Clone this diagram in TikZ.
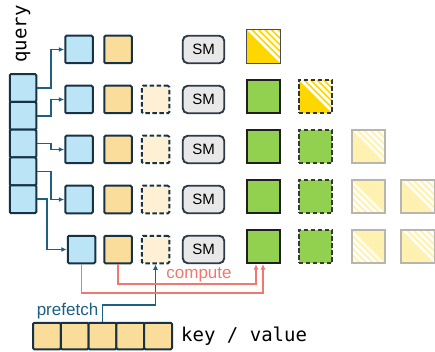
\documentclass[tikz,border=0pt]{standalone}
\usepackage{fontspec}
\setmainfont{Liberation Sans}
\setmonofont{DejaVu Sans Mono}
\usetikzlibrary{arrows.meta,calc}
\definecolor{boxline}{RGB}{22,50,68}
\definecolor{qblue}{RGB}{187,228,247}
\definecolor{korange}{RGB}{250,220,155}
\definecolor{dfill}{RGB}{253,240,212}
\definecolor{conncol}{RGB}{30,95,130}
\definecolor{smfill}{RGB}{232,232,232}
\definecolor{smline}{RGB}{47,58,72}
\definecolor{ggreen}{RGB}{146,208,80}
\definecolor{byellow}{RGB}{255,215,0}
\definecolor{lyellow}{RGB}{255,242,176}
\definecolor{lgray}{RGB}{184,180,174}
\definecolor{salmon}{RGB}{240,120,110}
\begin{document}
\begin{tikzpicture}[x=1pt,y=-1pt,
  cellbase/.style={draw=boxline, line width=2pt, inner sep=0pt, rounded corners=1.2pt},
  qcell/.style={cellbase, fill=qblue, minimum width=26.5pt, minimum height=27.8pt},
  kvcell/.style={cellbase, fill=korange, minimum width=27.8pt, minimum height=26.5pt},
  qbox/.style={cellbase, fill=qblue, minimum size=27.5pt},
  kbox/.style={cellbase, fill=korange, minimum size=27.5pt},
  dbox/.style={cellbase, fill=dfill, minimum size=27.5pt, dash pattern=on 4.5pt off 2.5pt},
  smbox/.style={draw=smline, fill=smfill, line width=1.9pt, rounded corners=5pt,
    minimum width=41.5pt, minimum height=27.5pt, inner sep=0pt, font=\fontsize{15}{15}\selectfont},
  bigbox/.style={minimum size=33.5pt, inner sep=0pt, line width=1.6pt},
  gbox/.style={bigbox, fill=ggreen, draw=black!88},
  gdbox/.style={gbox, dash pattern=on 4.5pt off 2.5pt, draw=black!78},
  stripeUR/.style={path picture={
    \foreach \t in {2,8.5,15,21.5,28}{
      \draw[white, solid, line width=#1]
        ($(path picture bounding box.north west)+(\t,0)$) --
        ($(path picture bounding box.south east)+(0,-\t)$);}}},
  stripeLL/.style={path picture={
    \foreach \t in {2,8.5,15,21.5,28}{
      \draw[white, solid, line width=#1]
        ($(path picture bounding box.north west)+(0,\t)$) --
        ($(path picture bounding box.south east)+(-\t,0)$);}}},
  ybox/.style={bigbox, fill=byellow, draw=black!70, line width=1.2pt, stripeUR=2.5pt},
  ydbox/.style={bigbox, fill=byellow, draw=black!80, dash pattern=on 4.5pt off 2.5pt, stripeUR=2.5pt},
  lboxUR/.style={bigbox, fill=lyellow, draw=lgray, line width=1.7pt, stripeUR=2.3pt},
  lboxLL/.style={bigbox, fill=lyellow, draw=lgray, line width=1.7pt, stripeLL=2.3pt},
  conn/.style={draw=conncol, line width=1.7pt, -{Latex[length=5.5pt,width=5pt]}},
  comp/.style={draw=salmon, line width=1.7pt, -{Latex[length=5.5pt,width=5pt]}},
]
\useasboundingbox (0,0) rectangle (435,352);

% query stack
\node[font=\ttfamily\fontsize{19}{19}\selectfont, rotate=90, inner sep=0pt] (qlabel) at (23,34) {query};
\foreach \i/\y in {1/88,2/115.8,3/143.6,4/171.4,5/199.2}{
  \node[qcell] (q\i) at (23,\y) {};
}

% row boxes
\foreach \i/\y in {1/49.5,2/99.5,3/149.5,4/199.5}{
  \node[qbox] (b\i) at (79,\y) {};
}
\node[qbox] (b5) at (81.5,249.5) {};
\foreach \i/\y in {1/49.5,2/99.5,3/149.5,4/199.5,5/249.5}{
  \node[kbox] (o\i) at (118,\y) {};
  \node[smbox] (sm\i) at (203.5,\y) {SM};
}
\foreach \i/\y in {2/99.5,3/149.5,4/199.5,5/249.5}{
  \node[dbox] (d\i) at (155.5,\y) {};
}

% big boxes
\node[ybox] (y1) at (263.5,46.5) {};
\foreach \i/\y in {2/96.5,3/146.5,4/196.5,5/246.5}{
  \node[gbox] (g\i) at (263.5,\y) {};
}
\node[ydbox] (yd2) at (315.5,96.5) {};
\foreach \i/\y in {3/146.5,4/196.5,5/246.5}{
  \node[gdbox] (gd\i) at (315.5,\y) {};
}
\node[lboxUR] (l3) at (368.5,146.5) {};
\node[lboxLL] (l4) at (368.5,196.5) {};
\node[lboxLL] (l5) at (368.5,246.5) {};
\node[lboxUR] (m4) at (418,196.5) {};
\node[lboxUR] (m5) at (418,246.5) {};

% query connectors
\foreach \i in {1,2,3,4}{
  \draw[conn] (q\i.east) -- ++(14,0) |- (b\i.west);
}
\draw[conn] (q5.east) -- ++(10,0) |- (b5.west);

% key / value strip
\foreach \j in {1,...,5}{
  \node[kvcell] (kv\j) at ({46.9+27.8*(\j-1)},336) {};
}
\node[font=\ttfamily\fontsize{19}{19}\selectfont, anchor=west, inner sep=0pt] (kvlabel) at (181,336.5) {key / value};

% prefetch
\draw[conn] (kv3.north) -- ++(0,-17) -| (d5.south);
\node[text=conncol, font=\fontsize{17}{17}\selectfont, inner sep=0pt] (pref) at (67.5,311) {prefetch};

% compute
\draw[comp] (o5.south) -- ++(0,19.5) -| ([xshift=-7.5pt]g5.south);
\draw[comp] (b5.south) -- ++(0,28.5) -| ([xshift=-0.5pt]g5.south);
\node[text=salmon, font=\fontsize{17}{17}\selectfont, inner sep=0pt] (compl) at (199,275) {compute};
\end{tikzpicture}
\end{document}
